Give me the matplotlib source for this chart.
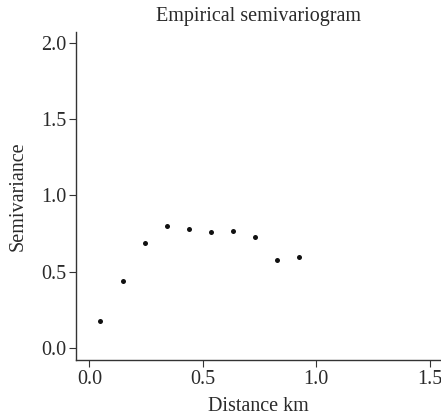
import matplotlib
matplotlib.use("Agg")
import matplotlib.pyplot as plt

# empirical semivariogram estimates
distance = [0.048, 0.148, 0.244, 0.341, 0.438, 0.535, 0.632, 0.730, 0.825, 0.922]
semivariance = [0.18, 0.436, 0.686, 0.80, 0.78, 0.763, 0.765, 0.728, 0.575, 0.594]

x_ticks = [0.0, 0.5, 1.0, 1.5]
y_ticks = [0.0, 0.5, 1.0, 1.5, 2.0]

plt.rcParams['font.family'] = ['Liberation Serif', 'DejaVu Serif']

fig = plt.figure(figsize=(4.41, 4.17), dpi=100)
ax = fig.add_axes([76 / 441, 57 / 417, 1 - 76 / 441, (360 - 32) / 417])

ax.plot(distance, semivariance, 'o', color='#111111', markersize=3.6, markeredgewidth=0)

ax.set_xlim(-0.059, 1.55)
ax.set_ylim(-0.079, 2.072)
ax.set_xticks(x_ticks)
ax.set_xticklabels(['0.0', '0.5', '1.0', '1.5'])
ax.set_yticks(y_ticks)
ax.set_yticklabels(['0.0', '0.5', '1.0', '1.5', '2.0'])

for side in ['top', 'right']:
    ax.spines[side].set_visible(False)
for side in ['left', 'bottom']:
    ax.spines[side].set_linewidth(1.0)
    ax.spines[side].set_color('#333333')
ax.tick_params(direction='out', length=5, width=0.8, colors='#333333',
               labelcolor='#2a2a2a', labelsize=14.5, pad=2)

ax.set_title('Empirical semivariogram', fontsize=14.5, color='#2a2a2a', pad=8)
ax.set_xlabel('Distance km', fontsize=14.5, color='#2a2a2a', labelpad=6)
ax.set_ylabel('Semivariance', fontsize=14.5, color='#2a2a2a', labelpad=10)

fig.savefig('out.png', dpi=100)
